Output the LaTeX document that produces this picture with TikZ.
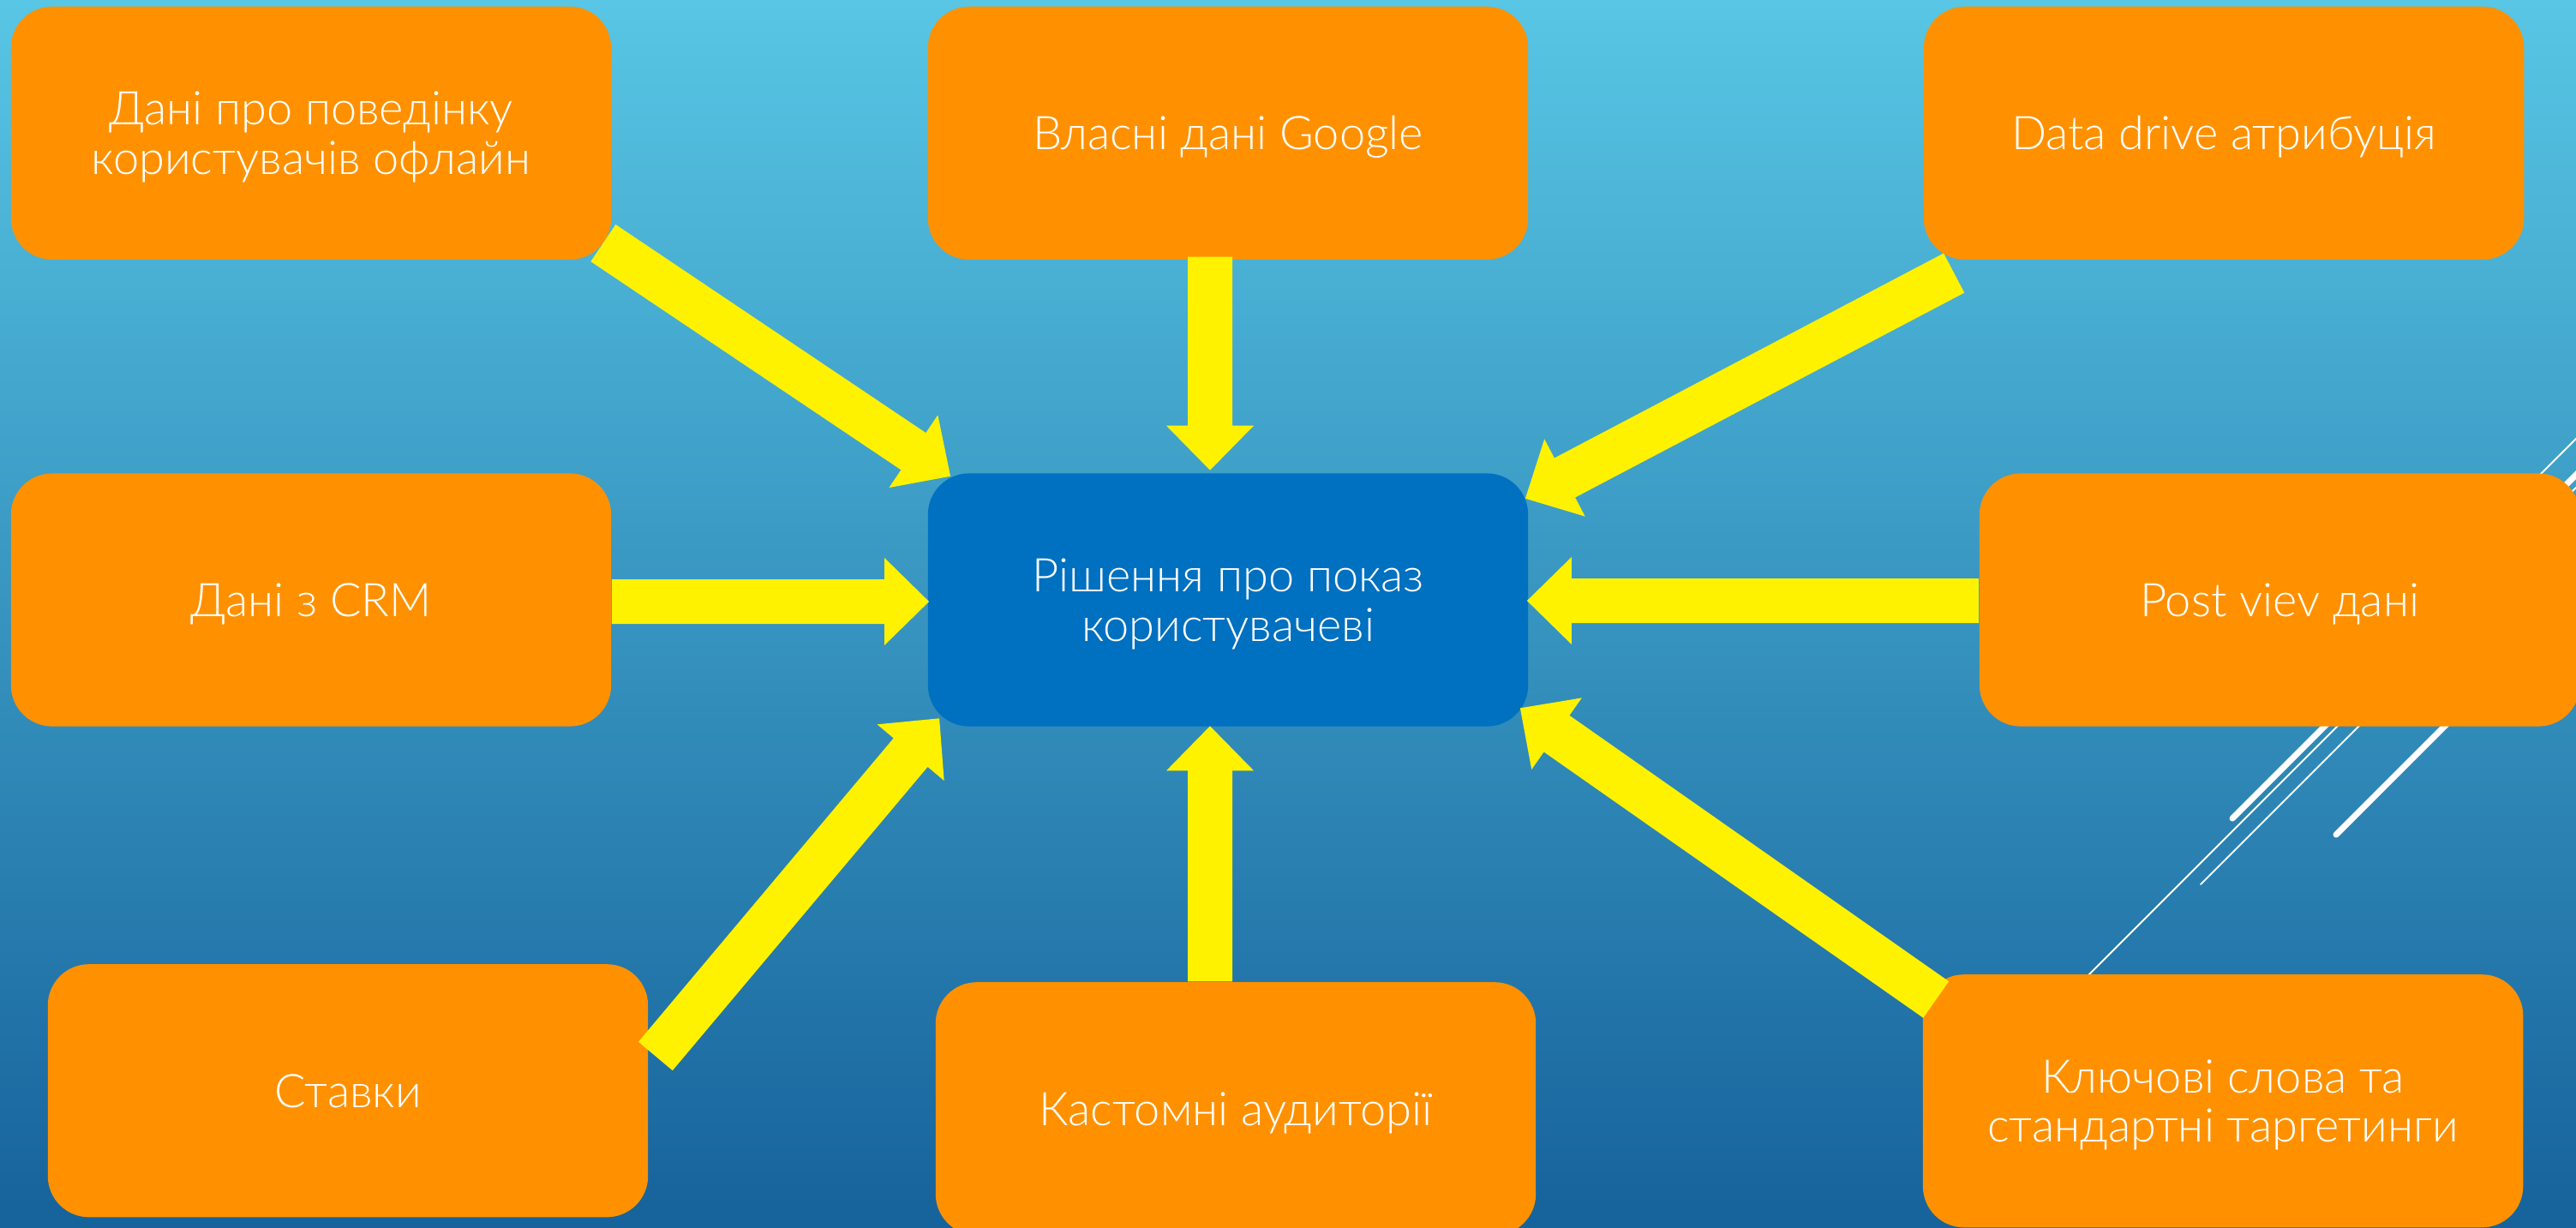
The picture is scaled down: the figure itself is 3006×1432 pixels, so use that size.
\documentclass[tikz,border=0pt]{standalone}
\usepackage{fontspec}
\setmainfont{Lato Light}
\usepackage{tikz}
\usetikzlibrary{calc,positioning}
\definecolor{boxorange}{RGB}{255,145,0}
\definecolor{boxblue}{RGB}{0,112,192}
\definecolor{bgtop}{RGB}{88,198,228}
\definecolor{bgbottom}{RGB}{22,98,155}
\tikzset{src node/.style={rectangle,rounded corners=0.48cm,fill=boxorange,minimum width=7cm,
             minimum height=2.95cm,inner sep=0pt,align=center,text=white,text depth=-2pt,
             font=\fontsize{15.4}{16.4}\selectfont},
         main node/.style={src node,fill=boxblue},
         arrow fill/.style={fill=yellow},
         deco line/.style={draw=white,line cap=round},
            }
\newcommand{\blockarrow}[2]{%
  \coordinate (ah) at ($(#2)!0.52cm!(#1)$);
  \path[arrow fill] ($(#1)!0.26cm!90:(#2)$) -- ($(ah)!0.26cm!-90:(#1)$)
    -- ($(ah)!0.51cm!-90:(#1)$) -- (#2) -- ($(ah)!0.51cm!90:(#1)$)
    -- ($(ah)!0.26cm!90:(#1)$) -- ($(#1)!0.26cm!-90:(#2)$) -- cycle;
}

\begin{document}
\begin{tikzpicture}[x=0.01cm,y=-0.01cm]

    \useasboundingbox (0,0) rectangle (3006,1432);
    \clip (0,0) rectangle (3006,1432);
    \shade[top color=bgtop,bottom color=bgbottom] (0,0) rectangle (3006,1432);

    % white strokes on the right
    \draw[deco line,line width=0.02cm] (2800,718) -- (3030,488);
    \draw[deco line,line width=0.07cm] (2605,955) -- (3030,530);
    \draw[deco line,line width=0.02cm] (2400,1175) -- (3030,545);
    \draw[deco line,line width=0.02cm] (2568,1032) -- (3030,570);
    \draw[deco line,line width=0.07cm] (2726,974) -- (2950,750);

    \node[main node] (ctr) at (1433,700) {Рішення про показ\\користувачеві};
    \node[src node] (tl) [above left = 2.48cm and 3.68cm of ctr] {Дані про поведінку\\користувачів офлайн};
    \node[src node] (tm) [above = 2.48cm of ctr] {Власні дані Google};
    \node[src node] (tr) [above right = 2.48cm and 4.6cm of ctr] {Data drive атрибуція};
    \node[src node] (ml) [left = 3.68cm of ctr] {Дані з CRM};
    \node[src node] (mr) [right = 5.25cm of ctr] {Post viev дані};
    \node[src node,text depth=0pt] (bl) [below left = 2.76cm and 3.25cm of ctr] {Ставки};
    \node[src node] (bm) [below = 2.97cm of ctr, xshift=0.09cm] {Кастомні аудиторії};
    \node[src node] (br) [below right = 2.88cm and 4.59cm of ctr] {Ключові слова та\\стандартні таргетинги};

    \coordinate (tlout) at ($(tl.south east)+(-10,-20)$);
    \coordinate (tlin) at ($(ctr.north west)+(27,4)$);
    \coordinate (tmout) at ($(tm.south)+(-21,-4)$);
    \coordinate (tmin) at ($(ctr.north)+(-21,-3)$);
    \coordinate (trout) at ($(tr.south west)+(36,15)$);
    \coordinate (trin) at ($(ctr.north east)+(-4,30)$);
    \coordinate (mlout) at ($(ml.east)+(0,2)$);
    \coordinate (mlin) at ($(ctr.west)+(2,2)$);
    \coordinate (mrout) at ($(mr.west)+(0,1)$);
    \coordinate (mrin) at ($(ctr.east)+(-2,1)$);
    \coordinate (blout) at ($(bl.north east)+(8,108)$);
    \coordinate (blin) at ($(ctr.south west)+(14,-10)$);
    \coordinate (bmout) at ($(bm.north)+(-30,0)$);
    \coordinate (bmin) at ($(ctr.south)+(-21,-1)$);
    \coordinate (brout) at ($(br.north west)+(16,30)$);
    \coordinate (brin) at ($(ctr.south east)+(-10,-22)$);

    \blockarrow{tlout}{tlin}
    \blockarrow{tmout}{tmin}
    \blockarrow{trout}{trin}
    \blockarrow{mlout}{mlin}
    \blockarrow{mrout}{mrin}
    \blockarrow{blout}{blin}
    \blockarrow{bmout}{bmin}
    \blockarrow{brout}{brin}

\end{tikzpicture}
\end{document}
